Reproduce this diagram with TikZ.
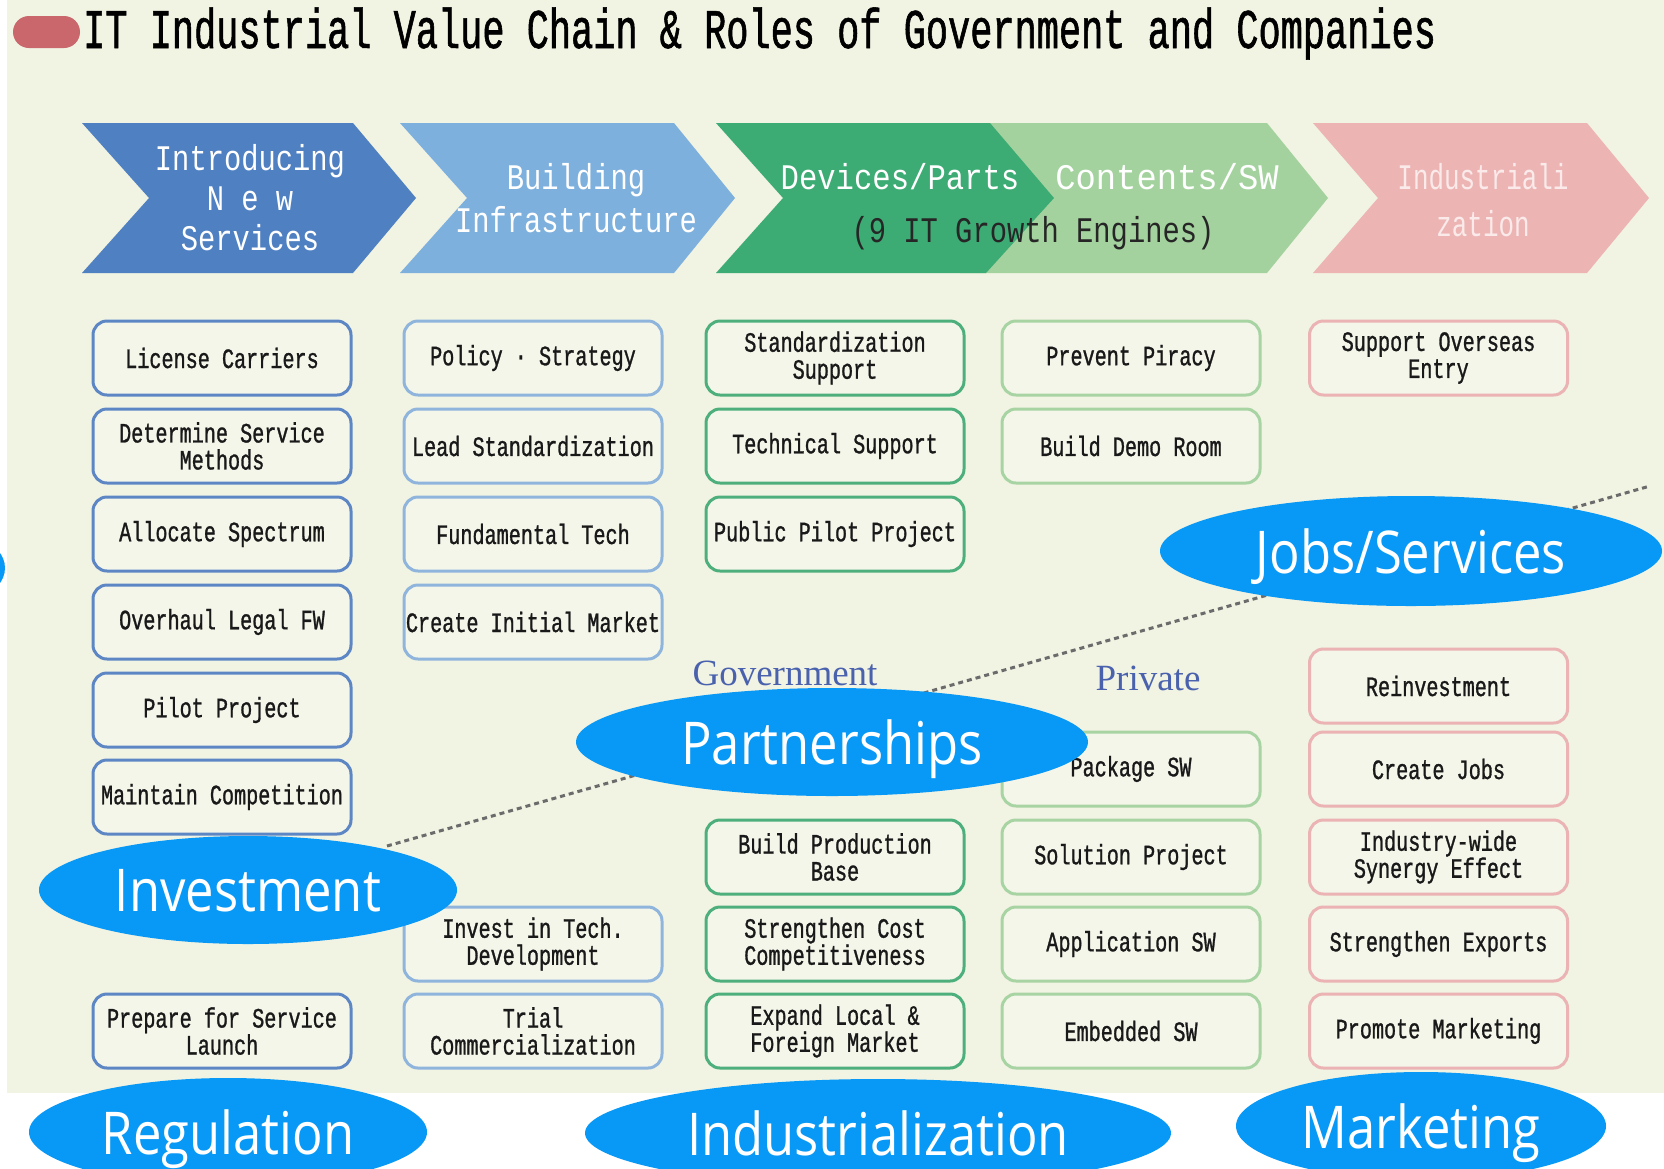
\documentclass[tikz,border=0pt]{standalone}
\usepackage{fontspec}
\setmainfont{Liberation Serif}
\newfontfamily\boxfont[FakeStretch=0.72,FakeBold=1]{Liberation Mono}
\newfontfamily\chevfont[FakeStretch=0.8]{Liberation Mono}
\newfontfamily\chevmid[FakeStretch=0.85]{Liberation Mono}
\newfontfamily\chevwide[FakeStretch=0.94]{Liberation Mono}
\newfontfamily\chevnarrow[FakeStretch=0.72]{Liberation Mono}
\newfontfamily\titlefont[FakeStretch=0.66,FakeBold=1]{Liberation Mono}
\newfontfamily\ellfont[FakeStretch=0.86]{Open Sans}
\newfontfamily\labfont{Liberation Serif}
\usetikzlibrary{shapes.geometric}
\definecolor{bg}{HTML}{F1F3E3}
\definecolor{boxfill}{HTML}{F4F6EA}
\definecolor{pillred}{HTML}{C9676C}
\definecolor{chA}{HTML}{4F80C1}
\definecolor{chB}{HTML}{7EB0DD}
\definecolor{chC}{HTML}{3DAB74}
\definecolor{chD}{HTML}{A4D29E}
\definecolor{chE}{HTML}{EDB4B4}
\definecolor{colA}{HTML}{5D86C4}
\definecolor{colB}{HTML}{8FB5DD}
\definecolor{colC}{HTML}{4DAF7C}
\definecolor{colD}{HTML}{A8D4A4}
\definecolor{colE}{HTML}{EBB3B3}
\definecolor{ellblue}{HTML}{0898F5}
\definecolor{labblue}{HTML}{4A62AE}
\definecolor{dotgray}{HTML}{6B6B6B}
\definecolor{zationtxt}{HTML}{FAEAEA}
\tikzset{
  bx/.style={draw, line width=3pt, rounded corners=14pt, fill=boxfill,
    minimum width=258pt, minimum height=74pt, inner sep=0pt, align=center,
    text=black!90, font={\boxfont\fontsize{28pt}{27pt}\selectfont}},
  bA/.style={bx, draw=colA},
  bB/.style={bx, draw=colB},
  bC/.style={bx, draw=colC},
  bD/.style={bx, draw=colD},
  bE/.style={bx, draw=colE},
  chevtxt/.style={align=center, text=white, inner sep=0pt,
    font={\chevfont\fontsize{36pt}{40pt}\selectfont}},
  ell/.style={ellipse, fill=ellblue, text=white, inner sep=0pt, text depth=0pt,
    font={\ellfont\fontsize{59pt}{59pt}\selectfont}},
  sidelab/.style={text=labblue, inner sep=0pt, font={\labfont\fontsize{37pt}{37pt}\selectfont}},
  dotline/.style={draw=dotgray, line width=3pt, dash pattern=on 5pt off 4pt},
}
\begin{document}
\begin{tikzpicture}[x=1pt,y=-1pt]
\useasboundingbox (0,0) rectangle (1664,1168);
\fill[white] (0,0) rectangle (1664,1168);
\fill[bg] (7,0) rectangle (1664,1093);
% left edge sliver
\fill[ellblue] (-20,568) ellipse [x radius=25pt, y radius=25pt];

% title
\node[fill=pillred, rounded corners=16pt, minimum width=67pt, minimum height=32pt, inner sep=0pt] (pill) at (46.5,32) {};
\node[anchor=base west, inner sep=0pt, font={\titlefont\fontsize{56pt}{56pt}\selectfont}] (title) at (83,48)
  {IT Industrial Value Chain \& Roles of Government and Companies};

% chevrons
\fill[chA] (82,123) -- (353,123) -- (416,198) -- (353,273) -- (82,273) -- (149,198) -- cycle;
\fill[chB] (400,123) -- (674,123) -- (735,198) -- (674,273) -- (400,273) -- (467,198) -- cycle;
\fill[chD] (960,123) -- (1267,123) -- (1328,198) -- (1267,273) -- (960,273) -- cycle;
\fill[chC] (716,123) -- (990,123) -- (1054,198) -- (986,273) -- (716,273) -- (783,198) -- cycle;
\fill[chE] (1313,123) -- (1587,123) -- (1649,198) -- (1587,273) -- (1313,273) -- (1378,198) -- cycle;

\node[chevtxt] (t1) at (250,198) {Introducing\\N e w\\Services};
\node[chevtxt, font={\chevfont\fontsize{36pt}{43pt}\selectfont}] (t2) at (576,198) {Building\\Infrastructure};
\node[chevtxt, font={\chevmid\fontsize{36pt}{40pt}\selectfont}] (t3) at (900,177) {Devices/Parts};
\node[chevtxt, font={\chevwide\fontsize{36pt}{40pt}\selectfont}] (t4) at (1167,177) {Contents/SW};
\node[chevtxt, text=black!85] (t5) at (1033,233) {(9 IT Growth Engines)};
\node[chevtxt, text=zationtxt, font={\chevnarrow\fontsize{36pt}{47pt}\selectfont}] (t6) at (1483,200) {Industriali\\zation};

% column 1
\node[bA] (a1) at (222,358) {License Carriers};
\node[bA] (a2) at (222,446) {Determine Service\\Methods};
\node[bA] (a3) at (222,534) {Allocate Spectrum};
\node[bA] (a4) at (222,622) {Overhaul Legal FW};
\node[bA] (a5) at (222,710) {Pilot Project};
\node[bA] (a6) at (222,797) {Maintain Competition};
\node[bA] (a7) at (222,1031) {Prepare for Service\\Launch};
% column 2
\node[bB] (b1) at (533,358) {Policy · Strategy};
\node[bB] (b2) at (533,446) {Lead Standardization};
\node[bB] (b3) at (533,534) {Fundamental Tech};
\node[bB] (b4) at (533,622) {Create Initial Market};
\node[bB] (b5) at (533,944) {Invest in Tech.\\Development};
\node[bB] (b6) at (533,1031) {Trial\\Commercialization};
% column 3
\node[bC] (c1) at (835,358) {Standardization\\Support};
\node[bC] (c2) at (835,446) {Technical Support};
\node[bC] (c3) at (835,534) {Public Pilot Project};
\node[bC] (c4) at (835,857) {Build Production\\Base};
\node[bC] (c5) at (835,944) {Strengthen Cost\\Competitiveness};
\node[bC] (c6) at (835,1031) {Expand Local \&\\Foreign Market};
% column 4
\node[bD] (d1) at (1131,358) {Prevent Piracy};
\node[bD] (d2) at (1131,446) {Build Demo Room};
\node[bD] (d3) at (1131,769) {Package SW};
\node[bD] (d4) at (1131,857) {Solution Project};
\node[bD] (d5) at (1131,944) {Application SW};
\node[bD] (d6) at (1131,1031) {Embedded SW};
% column 5
\node[bE] (e1) at (1438.5,358) {Support Overseas\\Entry};
\node[bE] (e2) at (1438.5,686) {Reinvestment};
\node[bE] (e3) at (1438.5,769) {Create Jobs};
\node[bE] (e4) at (1438.5,857) {Industry-wide\\Synergy Effect};
\node[bE] (e5) at (1438.5,944) {Strengthen Exports};
\node[bE] (e6) at (1438.5,1031) {Promote Marketing};

% labels
\node[sidelab] (gov) at (785,673) {Government};
\node[sidelab] (priv) at (1148,678) {Private};

% dotted divider
\coordinate (dl1) at (387,846);
\coordinate (dl2) at (1650,486);
\draw[dotline] (dl1) -- (dl2);

% ellipses
\node[ell, minimum width=502pt, minimum height=110pt] (jobs) at (1411,551) {Jobs/Services};
\node[ell, minimum width=512pt, minimum height=108pt] (partner) at (832,742) {Partnerships};
\node[ell, minimum width=418pt, minimum height=108pt] (invest) at (248,890) {Investment};
\node[ell, minimum width=398pt, minimum height=108pt] (regul) at (228,1132) {Regulation};
\node[ell, minimum width=586pt, minimum height=108pt] (indus) at (878,1133) {Industrialization};
\node[ell, minimum width=370pt, minimum height=108pt] (market) at (1421,1126) {Marketing};
\end{tikzpicture}
\end{document}
